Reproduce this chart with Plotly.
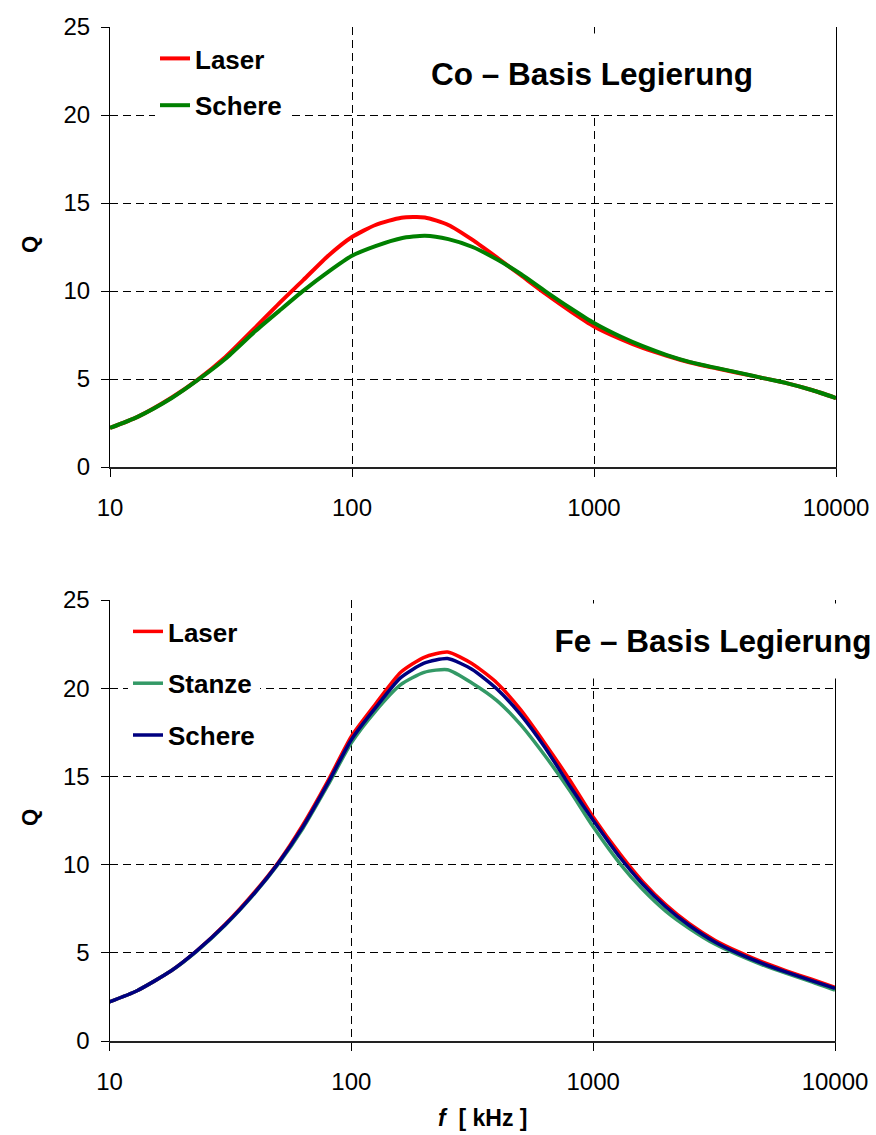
import plotly.graph_objects as go

W, H = 876, 1135

# ---------------- data ----------------
freq_khz = [10, 13, 18, 23, 30, 40, 50, 63, 80, 100, 125, 160, 200, 250, 315, 400, 500,
            630, 800, 1000, 1300, 1600, 2000, 2500, 3200, 4000, 5000, 6300, 8000, 10000]

co_laser = [2.22, 2.85, 3.95, 4.95, 6.25, 7.95, 9.30, 10.63, 12.02, 13.07, 13.75, 14.16, 14.18,
            13.75, 12.90, 11.87, 10.88, 9.85, 8.85, 7.99, 7.25, 6.75, 6.32, 5.94, 5.61, 5.33,
            5.05, 4.75, 4.36, 3.92]
co_schere = [2.22, 2.85, 3.92, 4.93, 6.15, 7.74, 8.87, 10.02, 11.10, 12.00, 12.55, 13.00, 13.14,
             12.95, 12.50, 11.77, 10.95, 9.98, 9.02, 8.18, 7.38, 6.85, 6.36, 5.96, 5.63, 5.35,
             5.05, 4.75, 4.36, 3.92]

fe_laser = [2.22, 2.85, 3.98, 5.12, 6.60, 8.48, 10.15, 12.25, 14.75, 17.27, 19.05, 20.90, 21.75,
            22.05, 21.40, 20.30, 18.80, 16.90, 14.80, 12.70, 10.55, 9.05, 7.72, 6.65, 5.70, 5.05,
            4.48, 3.98, 3.50, 3.04]
fe_stanze = [2.22, 2.85, 3.98, 5.10, 6.55, 8.40, 10.05, 12.05, 14.50, 16.90, 18.65, 20.20, 20.90,
             21.05, 20.30, 19.30, 17.95, 16.20, 14.20, 12.14, 10.00, 8.60, 7.35, 6.38, 5.48, 4.86,
             4.32, 3.83, 3.36, 2.88]
fe_schere = [2.22, 2.85, 3.98, 5.12, 6.57, 8.43, 10.10, 12.14, 14.62, 17.08, 18.84, 20.60, 21.42,
             21.68, 21.08, 19.96, 18.52, 16.67, 14.47, 12.52, 10.36, 8.90, 7.60, 6.55, 5.60, 4.95,
             4.40, 3.90, 3.42, 2.98]

x_tickvals = [10, 100, 1000, 10000]
x_ticktext = ["10", "100", "1000", "10000"]

RED = "#FF0000"
GREEN = "#008000"
SEAGREEN = "#339966"
NAVY = "#000080"
FONT = "Liberation Sans, Arial, sans-serif"


def px(x):
    return x / W


def py(y):
    return 1 - y / H


fig = go.Figure()

# top chart
fig.add_trace(go.Scatter(x=freq_khz, y=co_laser, mode="lines", name="Laser",
                         line=dict(color=RED, width=4, shape="spline", smoothing=0.6),
                         xaxis="x", yaxis="y", legend="legend", legendgroup="a"))
fig.add_trace(go.Scatter(x=freq_khz, y=co_schere, mode="lines", name="Schere",
                         line=dict(color=GREEN, width=4, shape="spline", smoothing=0.6),
                         xaxis="x", yaxis="y", legend="legend", legendgroup="b"))
# bottom chart
fig.add_trace(go.Scatter(x=freq_khz, y=fe_laser, mode="lines", name="Laser",
                         line=dict(color=RED, width=3.5, shape="spline", smoothing=0.6),
                         xaxis="x2", yaxis="y2", legend="legend2", legendgroup="c"))
fig.add_trace(go.Scatter(x=freq_khz, y=fe_stanze, mode="lines", name="Stanze",
                         line=dict(color=SEAGREEN, width=3.5, shape="spline", smoothing=0.6),
                         xaxis="x2", yaxis="y2", legend="legend2", legendgroup="d"))
fig.add_trace(go.Scatter(x=freq_khz, y=fe_schere, mode="lines", name="Schere",
                         line=dict(color=NAVY, width=3.5, shape="spline", smoothing=0.6),
                         xaxis="x2", yaxis="y2", legend="legend2", legendgroup="e"))

grid = dict(showgrid=True, gridcolor="#000000", gridwidth=1, griddash="8px,5px")


def xaxis(domain, anchor):
    return dict(type="log", range=[1, 4], domain=domain, anchor=anchor,
                tickvals=x_tickvals, ticktext=x_ticktext,
                ticks="outside", ticklen=8, tickcolor="#000000", tickwidth=1,
                showline=True, linecolor="#222222", linewidth=2,
                tickfont=dict(family=FONT, size=24, color="#000000"),
                ticklabelstandoff=10, zeroline=False, automargin=False, **grid)


def yaxis(domain, anchor):
    return dict(range=[0, 25], domain=domain, anchor=anchor, dtick=5,
                ticks="outside", ticklen=8, tickcolor="#000000", tickwidth=1,
                showline=True, linecolor="#000000", linewidth=1, mirror=True,
                tickfont=dict(family=FONT, size=24, color="#000000"),
                ticklabelstandoff=6, zeroline=False, automargin=False, **grid)


legend_common = dict(bgcolor="#FFFFFF", borderwidth=0,
                     font=dict(family=FONT, size=26, color="#000000", weight="bold"),
                     xanchor="left", yanchor="top", traceorder="grouped")

fig.update_layout(
    width=W, height=H,
    margin=dict(l=0, r=0, t=0, b=0, autoexpand=False),
    paper_bgcolor="#FFFFFF", plot_bgcolor="#FFFFFF",
    showlegend=True,
    xaxis=xaxis([px(110), px(836)], "y"),
    yaxis=yaxis([py(467), py(27)], "x"),
    xaxis2=xaxis([px(109.5), px(835)], "y2"),
    yaxis2=yaxis([py(1041), py(600)], "x2"),
    legend=dict(x=px(155), y=py(35), tracegroupgap=10, **legend_common),
    legend2=dict(x=px(128), y=py(608), tracegroupgap=15, **legend_common),
    annotations=[
        dict(text="<b>Co – Basis Legierung</b>", xref="paper", yref="paper",
             x=px(592), y=py(74), xanchor="center", yanchor="middle",
             showarrow=False, bgcolor="#FFFFFF", width=404, height=77,
             font=dict(family=FONT, size=31.5, color="#000000")),
        dict(text="<b>Fe – Basis Legierung</b>", xref="paper", yref="paper",
             x=px(713), y=py(641), xanchor="center", yanchor="middle",
             showarrow=False, bgcolor="#FFFFFF", width=340, height=72,
             font=dict(family=FONT, size=31.5, color="#000000")),
        dict(text="<b>Q</b>", xref="paper", yref="paper", x=px(29), y=py(245),
             xanchor="center", yanchor="middle", textangle=-90, showarrow=False,
             font=dict(family=FONT, size=22, color="#000000")),
        dict(text="<b>Q</b>", xref="paper", yref="paper", x=px(29), y=py(818),
             xanchor="center", yanchor="middle", textangle=-90, showarrow=False,
             font=dict(family=FONT, size=22, color="#000000")),
        dict(text="<b><i>f</i>  [ kHz ]</b>", xref="paper", yref="paper",
             x=px(482), y=py(1118), xanchor="center", yanchor="middle",
             showarrow=False, font=dict(family=FONT, size=23, color="#000000")),
    ],
)

fig.write_html("out.html")
